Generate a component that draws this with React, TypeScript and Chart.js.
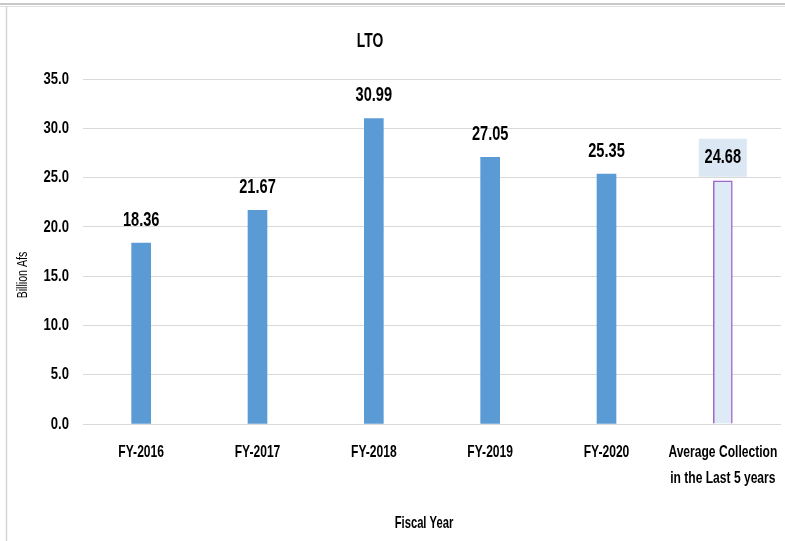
import React, { useEffect, useRef } from "react";
import { Chart, registerables } from "chart.js";

Chart.register(...registerables);

const categories: (string | string[])[] = [
  "FY-2016",
  "FY-2017",
  "FY-2018",
  "FY-2019",
  "FY-2020",
  ["Average Collection", "in the Last 5 years"],
];
const values: number[] = [18.36, 21.67, 30.99, 27.05, 25.35, 24.68];
const valueLabels: string[] = ["18.36", "21.67", "30.99", "27.05", "25.35", "24.68"];
const yTicks: number[] = [0, 5, 10, 15, 20, 25, 30, 35];

const FONT = "'Liberation Sans', Arial, sans-serif";

const BLUE = "#5B9BD5";
const AVG_FILL = "#DEEBF7";
const AVG_BORDER = "#A066C8";

function narrowText(
  ctx: CanvasRenderingContext2D,
  text: string,
  x: number,
  y: number,
  font: string,
  sx: number,
  align: CanvasTextAlign,
  rotate = 0
) {
  ctx.save();
  ctx.translate(x, y);
  if (rotate) ctx.rotate(rotate);
  ctx.scale(sx, 1);
  ctx.font = font;
  ctx.textAlign = align;
  ctx.textBaseline = "middle";
  ctx.fillStyle = "#000000";
  ctx.fillText(text, 0, 0);
  ctx.restore();
}

const decorPlugin = {
  id: "decor",
  beforeDraw(chart: any) {
    const ctx = chart.ctx;
    ctx.save();
    ctx.fillStyle = "#ffffff";
    ctx.fillRect(0, 0, chart.width, chart.height);
    ctx.strokeStyle = "#c8c8c8";
    ctx.lineWidth = 2;
    ctx.beginPath();
    ctx.moveTo(0, 4);
    ctx.lineTo(chart.width, 4);
    ctx.stroke();
    ctx.strokeStyle = "#e2e2e2";
    ctx.lineWidth = 1;
    ctx.beginPath();
    ctx.moveTo(0, 6.5);
    ctx.lineTo(chart.width, 6.5);
    ctx.stroke();
    ctx.strokeStyle = "#d6d6d6";
    ctx.lineWidth = 1.5;
    ctx.beginPath();
    ctx.moveTo(6.5, 6);
    ctx.lineTo(6.5, chart.height);
    ctx.stroke();
    ctx.restore();
  },
  afterDraw(chart: any) {
    const ctx = chart.ctx;
    const xs = chart.scales.x;
    const ys = chart.scales.y;
    ys.ticks.forEach((t: any, i: number) => {
      const y = ys.getPixelForTick(i);
      narrowText(ctx, Number(t.value).toFixed(1), 69, y, `bold 17px ${FONT}`, 0.77, "right");
    });
    categories.forEach((c, i) => {
      const x = xs.getPixelForTick(i);
      const lines = Array.isArray(c) ? c : [c];
      lines.forEach((line, j) => {
        narrowText(ctx, line, x, xs.top + 28 + j * 26, `bold 17px ${FONT}`, 0.71, "center");
      });
    });
    narrowText(ctx, "LTO", 370, 41, `bold 21px ${FONT}`, 0.66, "center");
    narrowText(ctx, "Fiscal Year", 424, 523, `bold 17px ${FONT}`, 0.66, "center");
    narrowText(ctx, "Billion Afs", 23, 275, `14px ${FONT}`, 0.76, "center", -Math.PI / 2);
  },
  afterDatasetsDraw(chart: any) {
    const ctx = chart.ctx;
    const meta = chart.getDatasetMeta(0);
    meta.data.forEach((el: any, i: number) => {
      const x = el.x;
      const y = el.y - 23;
      if (i === values.length - 1) {
        ctx.save();
        ctx.fillStyle = "#DCE7F4";
        ctx.fillRect(x - 24, y - 19, 48, 38);
        ctx.restore();
      }
      narrowText(ctx, valueLabels[i], x, y, `bold 20px ${FONT}`, 0.73, "center");
    });
  },
};

export default function App() {
  const ref = useRef<HTMLCanvasElement | null>(null);

  useEffect(() => {
    document.body.style.margin = "0";
    if (!ref.current) return;
    const chart = new Chart(ref.current, {
      type: "bar",
      data: {
        labels: categories,
        datasets: [
          {
            data: values,
            backgroundColor: values.map((_, i) => (i === values.length - 1 ? AVG_FILL : BLUE)),
            borderColor: values.map((_, i) => (i === values.length - 1 ? AVG_BORDER : BLUE)),
            borderWidth: values.map((_, i) => (i === values.length - 1 ? 1.5 : 0)),
            barThickness: 19,
          },
        ],
      },
      options: {
        animation: false,
        responsive: true,
        maintainAspectRatio: false,
        layout: { padding: { top: 79, right: 4, left: 0, bottom: 0 } },
        plugins: {
          legend: { display: false },
          title: { display: false },
          tooltip: { enabled: false },
        },
        scales: {
          x: {
            grid: { display: false },
            border: { display: false },
            ticks: { display: false },
            afterFit(scale: any) {
              scale.height = 117;
              scale.paddingLeft = 0;
              scale.paddingRight = 0;
            },
          },
          y: {
            min: 0,
            max: 35,
            afterBuildTicks(scale: any) {
              scale.ticks = yTicks.map((v) => ({ value: v }));
            },
            grid: { color: "#d9d9d9", lineWidth: 1, drawTicks: false },
            border: { display: false },
            ticks: { display: false },
            afterFit(scale: any) {
              scale.width = 83;
              scale.paddingTop = 0;
              scale.paddingBottom = 0;
            },
          },
        },
      },
      plugins: [decorPlugin],
    });
    return () => chart.destroy();
  }, []);

  return (
    <div style={{ position: "absolute", left: 0, top: 0, width: 785, height: 541 }}>
      <canvas ref={ref} />
    </div>
  );
}
